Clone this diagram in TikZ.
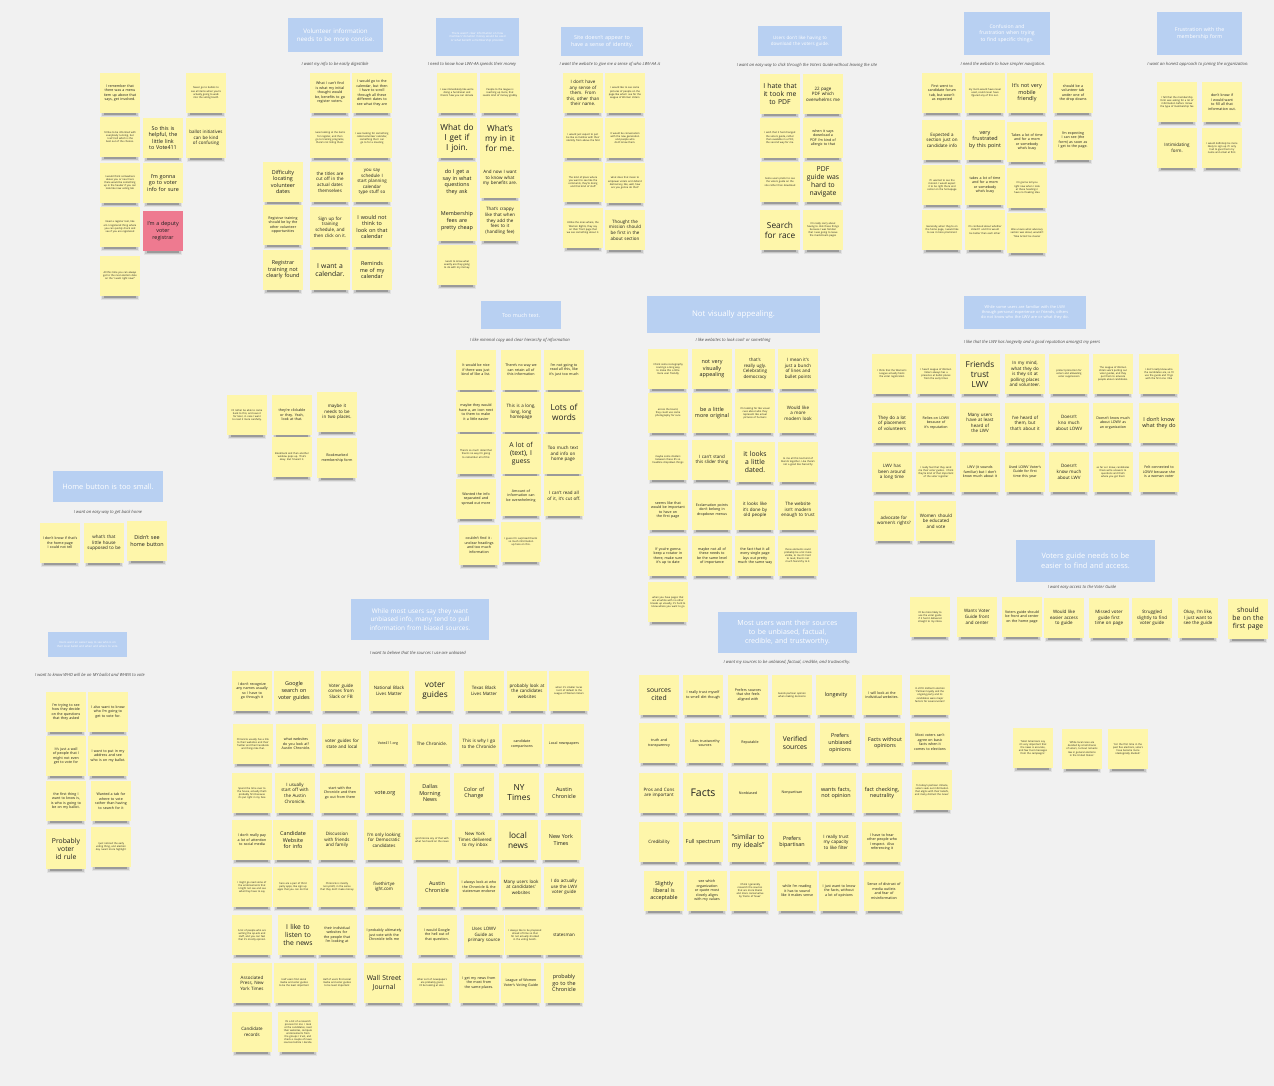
\documentclass[tikz,border=0pt]{standalone}
\usepackage{fontspec}
\setmainfont{Open Sans}
\definecolor{board}{HTML}{F1F1F1}
\definecolor{stickY}{HTML}{FEF6AA}
\definecolor{stickR}{HTML}{EE7A90}
\definecolor{hdrB}{HTML}{B8D0F2}
\definecolor{subG}{HTML}{4A4A4A}
\definecolor{inkN}{HTML}{1E1E1E}
\tikzset{
  note/.style={fill=stickY, text=inkN, minimum width=40pt, minimum height=40pt,
    text width=35pt, inner sep=2.5pt, align=center},
  notepink/.style={note, fill=stickR},
  hdr/.style={fill=hdrB, text=white, align=center, inner sep=2pt},
  sub/.style={text=subG, font=\fontsize{4.2}{5}\selectfont\itshape, inner sep=0pt},
  fT/.style={font=\fontsize{2.5}{3.1}\selectfont},
  fS/.style={font=\fontsize{3.6}{4.5}\selectfont},
  fM/.style={font=\fontsize{4.5}{5.6}\selectfont},
  fN/.style={font=\fontsize{5.4}{6.6}\selectfont},
  fL/.style={font=\fontsize{6.8}{8.2}\selectfont},
  fX/.style={font=\fontsize{8.3}{10}\selectfont},
  fXX/.style={font=\fontsize{10.5}{12}\selectfont},
}
% sticky note: [style]{name}{x}{y}{font style}{text}
\newcommand\sn[6][note]{%
  \fill[black,opacity=.06] (#3-19,#4+15) rectangle (#3+19,#4+24);
  \fill[black,opacity=.12] (#3-18,#4+17) rectangle (#3+18,#4+23);
  \fill[black,opacity=.22] (#3-16,#4+18) rectangle (#3+16,#4+22);
  \node[#1,#5] (#2) at (#3,#4) {#6};}
% cluster heading: {name}{x}{y}{width}{height}{font size}{text}
\newcommand\hd[7]{%
  \pgfmathsetmacro\hdls{#6*1.3}%
  \pgfmathsetmacro\hdtw{#4-12}%
  \node[hdr, minimum width=#4pt, minimum height=#5pt, text width=\hdtw pt,
    font=\fontsize{#6}{\hdls}\selectfont] (#1) at (#2,#3) {#7};}
\begin{document}
\hyphenpenalty=10000 \exhyphenpenalty=10000
\begin{tikzpicture}[x=1pt,y=-1pt]
\fill[board] (0,0) rectangle (1274,1086);
\useasboundingbox (0,0) rectangle (1274,1086);

% ---------------- headings and need statements ----------------
\hd{hVol}{335.5}{35}{95}{34}{6.2}{Volunteer information needs to be more concise.}
\hd{hMoney}{477.5}{37}{83}{38}{2.8}{There wasn't clear information on how members' donation money would be used or what benefit a membership provides.}
\hd{hIdent}{602}{41.5}{82}{29}{5.4}{Site doesn't appear to have a sense of identity.}
\hd{hPdf}{800}{41}{84}{30}{4.5}{Users don't like having to download the voters guide.}
\hd{hConf}{1007}{33.5}{86}{43}{5.1}{Confusion and frustration when trying to find specific things.}
\hd{hForm}{1199.5}{33.5}{85}{43}{5.3}{Frustration with the membership form}
\hd{hHome}{108}{486.5}{110}{31}{7.4}{Home button is too small.}
\hd{hText}{521}{315}{80}{28}{5.4}{Too much text.}
\hd{hLook}{733.5}{314.5}{173}{37}{7.8}{Not visually appealing.}
\hd{hLwv}{1025}{312.5}{122}{33}{3.9}{While some users are familiar with the LWV through personal experience or friends, others do not know who the LWV are or what they do.}
\hd{hGuide}{1085.5}{561}{139}{42}{7.4}{Voters guide needs to be easier to find and access.}
\hd{hBallot}{87.5}{644.5}{79}{25}{2.8}{Users want an easier way to see who is on their local ballot and when and where to vote.}
\hd{hBias}{420}{619.5}{138}{41}{6.4}{While most users say they want unbiased info, many tend to pull information from biased sources.}
\hd{hSrc}{787.5}{632.5}{139}{41}{7}{Most users want their sources to be unbiased, factual, credible, and trustworthy.}

\node[sub] (sVol) at (335,64) {I want my info to be easily digestible};
\node[sub] (sMoney) at (472,64) {I need to know how LWV-AA spends their money};
\node[sub] (sIdent) at (610,64) {I want the website to give me a sense of who LWV-AA is};
\node[sub] (sPdf) at (807,65) {I want an easy way to click through the Voters Guide without leaving the site};
\node[sub] (sConf) at (1003,64) {I need the website to have simpler navigation.};
\node[sub] (sForm) at (1198,64) {I want an honest approach to joining the organization.};
\node[sub] (sHome) at (108,512) {I want an easy way to get back home};
\node[sub] (sText) at (520,340) {I like minimal copy and clear hierarchy of information};
\node[sub] (sLook) at (733,340) {I like websites to look cool! or something};
\node[sub] (sLwv) at (1032,342) {I like that the LWV has longevity and a good reputation amongst my peers};
\node[sub] (sGuide) at (1082,587) {I want easy access to the Voter Guide};
\node[sub] (sBallot) at (90,675) {I want to know WHO will be on MY ballot and WHEN to vote};
\node[sub] (sBias) at (418,653) {I want to believe that the sources I use are unbiased};
\node[sub] (sSrc) at (787,662) {I want my sources to be unbiased, factual, credible, and trustworthy.};

% ---------------- top-left notes ----------------
\sn{a1}{120}{93}{fS}{I remember that there was a menu item up above that says, get involved.}
\sn{a2}{120}{137}{fT}{I'd like to be informed with everybody running, but I can't tell which is the best out of the choices.}
\sn{a3}{120}{183}{fT}{I would think somewhere above you or near here there would be something up in the header if you can look like now voting tab}
\sn{a4}{120}{227}{fT}{Need a register tool, like am I registered thing where you can quickly check and see if you are registered}
\sn{a5}{120}{276}{fT}{All this time you can always get to the next election date on the 'I want right now?'}
\sn{a6}{163}{138}{fN}{So this is helpful, the little link to Vote411}
\sn{a7}{163}{183}{fN}{I'm gonna go to voter info for sure}
\sn[notepink]{a8}{163}{231}{fN}{I'm a deputy voter registrar}
\sn{a9}{206}{93}{fT}{Never go to ballots to see all items when you're actually going to walk into the voting booth}
\sn{a10}{206}{138}{fM}{ballot initiatives can be kind of confusing}

% ---------------- volunteer information ----------------
\sn{b1}{283}{182}{fN}{Difficulty locating volunteer dates}
\sn{b2}{283}{225}{fS}{Registrar training should be by the other volunteer opportunities}
\sn{b3}{283}{270}{fN}{Registrar training not clearly found}
\sn{b4}{330}{93}{fS}{What I can't find is what my initial thought would be, benefits to go register voters.}
\sn{b5}{330}{138}{fT}{I was looking at the items for register, and then go to training programs, there's not listing them.}
\sn{b6}{330}{182}{fM}{the titles are cut off in the actual dates themselves}
\sn{b7}{330}{227}{fM}{Sign up for training schedule, and then click on it.}
\sn{b8}{330}{270}{fL}{I want a calendar.}
\sn{b9}{372}{93}{fS}{I would go to the calendar, but then I have to scroll through all these different dates to see what they are}
\sn{b10}{372}{138}{fT}{I was looking for something called volunteer calendar, something that I can go to for a meeting}
\sn{b11}{372}{182}{fM}{you say schedule I start planning calendar type stuff so}
\sn{b12}{372}{227}{fN}{I would not think to look on that calendar}
\sn{b13}{372}{270}{fN}{Reminds me of my calendar}

% ---------------- membership money ----------------
\sn{c1}{457}{93}{fT}{I saw immediately like we're doing a fundraiser and there's how you can donate}
\sn{c2}{457}{138}{fX}{What do I get if I join.}
\sn{c3}{457}{182}{fN}{do I get a say in what questions they ask}
\sn{c4}{457}{221}{fN}{Membership fees are pretty cheap}
\sn{c5}{457}{265}{fT}{I want to know what exactly are they going to do with my money.}
\sn{c6}{500}{93}{fT}{People to the league is reaching up more, that seems kind of money grabby}
\sn{c7}{500}{138}{fX}{What's my in it for me.}
\sn{c8}{500}{178}{fM}{And now I want to know what my benefits are.}
\sn{c9}{500}{221}{fM}{That's crappy like that when they add the fees to it (handling fee)}

% ---------------- identity ----------------
\sn{d1}{583}{93}{fM}{I don't have any sense of them. From this, other than their name.}
\sn{d2}{583}{138}{fT}{I would just expect to just be like so familiar with their identity from above the fold}
\sn{d3}{583}{182}{fT}{The kind of place where you want to see like the comments, they're doing and that kind of stuff}
\sn{d4}{583}{228}{fT}{Unlike the ones where, the Women Rights, they say on their front page that we see something about it.}
\sn{d5}{625}{93}{fT}{I would like to see some pictures of people on the page like what I see for the League of Women Voters.}
\sn{d6}{625}{138}{fT}{It would be conversation with the new generation and people who don't know them.}
\sn{d7}{625}{183}{fT}{what does that mean to empower voters and defend democracy, like, well, how are you gonna do that?}
\sn{d8}{625}{230}{fM}{Thought the mission should be first in the about section}

% ---------------- voters guide download ----------------
\sn{e1}{780}{94}{fL}{I hate that it took me to PDF}
\sn{e2}{780}{138}{fT}{I wish that it had changed the voters guide, rather than available in a PDF, the second way for me.}
\sn{e3}{780}{182}{fT}{Some users prefer to see the voters guide on the site rather than download}
\sn{e4}{780}{230}{fX}{Search for race}
\sn{e5}{823}{94}{fM}{22 page PDF which overwhelms me}
\sn{e6}{823}{138}{fS}{when it says download a PDF I'm kind of allergic to that}
\sn{e7}{823}{182}{fL}{PDF guide was hard to navigate}
\sn{e8}{823}{230}{fT}{I'm really sorry about having to click these things because I was familiar that I was going to leave the mainstream pages}

% ---------------- navigation ----------------
\sn{f1}{942}{93}{fS}{First went to candidate forum tab, but wasn't as expected}
\sn{f2}{942}{140}{fM}{Expected a section just on candidate info}
\sn{f3}{942}{185}{fT}{If I wanted to see the mission I would expect it to be right there and center on the homepage}
\sn{f4}{942}{230}{fT}{Generally, when they're on the home page, I would like to see it more prominent}
\sn{f5}{985}{93}{fT}{my mom would have never used, could never have figured any of this out.}
\sn{f6}{985}{140}{fN}{very frustrated by this point}
\sn{f7}{985}{185}{fS}{takes a lot of time and for a mom or somebody who's busy}
\sn{f8}{985}{230}{fT}{I'm confused about whether Vote411 and this would be better than each other}
\sn{f9}{1027}{93}{fN}{It's not very mobile friendly}
\sn{f10}{1027}{142}{fS}{Takes a lot of time and for a mom or somebody who's busy}
\sn{f11}{1027}{188}{fT}{I'm gonna tell you right now when I look at these headings I have no freaking idea}
\sn{f12}{1027}{233}{fT}{Was unsure what advocacy section was about, wouldn't 'Take Action' be clearer}
\sn{f13}{1073}{93}{fS}{should be a volunteer tab under one of the drop downs}
\sn{f14}{1073}{140}{fS}{I'm expecting I can see (the form) as soon as I get to the page.}

% ---------------- membership form ----------------
\sn{g1}{1177}{102}{fT}{I felt that the membership form was asking for a lot of information before I knew the type of membership fee}
\sn{g2}{1177}{148}{fM}{Intimidating form.}
\sn{g3}{1222}{102}{fS}{don't know if I would want to fill all that information out.}
\sn{g4}{1222}{148}{fT}{I would definitely be more likely to sign up if I only had to give them my name and email at first.}

% ---------------- bookmarks ----------------
\sn{k0a}{247}{415}{fT}{I'd rather be able to come back to this, and save it for later, in case I want to read it more carefully.}
\sn{k0b}{292}{415}{fS}{they're clickable or they. Yeah, look at that.}
\sn{k0c}{292}{457}{fT}{Bookmark and then another window pops up. That's okay. But I'd want it.}
\sn{k0d}{337}{412}{fM}{maybe it needs to be in two places.}
\sn{k0e}{337}{458}{fS}{Bookmarked membership form}

% ---------------- home button ----------------
\sn{i1}{60}{543}{fS}{I don't know if that's the home page I could not tell}
\sn{i2}{104}{543}{fM}{what's that little house supposed to be}
\sn{i3}{147}{541}{fN}{Didn't see home button}

% ---------------- too much text ----------------
\sn{j1}{476}{370}{fS}{It would be nice if there was just kind of like a list.}
\sn{j2}{476}{412}{fS}{maybe they would have a, an icon next to them to make it a little easier}
\sn{j3}{476}{454}{fT}{There's so much detail that there's no way I'm going to remember all of this}
\sn{j4}{476}{499}{fS}{Wanted the info separated and spread out more}
\sn{j5}{479}{545}{fS}{couldn't find it - unclear headings and too much information}
\sn{j6}{521}{370}{fS}{There's no way we can retain all of this information}
\sn{j7}{521}{412}{fM}{This is a long, long, long homepage}
\sn{j8}{521}{454}{fL}{A lot of (text), I guess}
\sn{j9}{521}{496}{fS}{Amount of information can be overwhelming}
\sn{j10}{521}{542}{fT}{I guess I'm surprised there's so much information up here on this.}
\sn{j11}{564}{370}{fS}{I'm not going to read all this, like it's just too much}
\sn{j12}{564}{412}{fX}{Lots of words}
\sn{j13}{563}{454}{fM}{Too much text and info on home page}
\sn{j14}{564}{496}{fM}{I can't read all of it, it's cut off.}

% ---------------- visual appeal ----------------
\sn{k1}{668}{369}{fT}{I think some iconography could go a long way to make this a little more user friendly}
\sn{k2}{668}{413}{fT}{across the board, they could use some photography for sure}
\sn{k3}{668}{460}{fT}{maybe some dividers between these \#'s so headline dropdown things}
\sn{k4}{668}{510}{fS}{seems like that would be important to have on the first page}
\sn{k5}{668}{556}{fS}{If you're gonna keep a rotator in there, make sure it's up to date}
\sn{k6}{668}{602}{fT}{when you have pages that are all white with no other breaks up visually, it's hard to know where you want to go}
\sn{k7}{712}{369}{fN}{not very visually appealing}
\sn{k8}{712}{413}{fN}{be a little more original}
\sn{k9}{712}{460}{fM}{I can't stand this slider thing}
\sn{k10}{712}{510}{fS}{Exclamation points don't belong in dropdown menus}
\sn{k11}{712}{556}{fS}{maybe not all of these needs to be the same level of importance}
\sn{k12}{755}{369}{fM}{that's really ugly. Celebrating democracy}
\sn{k13}{755}{413}{fT}{I'm looking for like visual cues about who they represent like actual pictures of humans}
\sn{k14}{755}{462}{fL}{it looks a little dated.}
\sn{k15}{755}{510}{fM}{it looks like it's done by old people}
\sn{k16}{755}{556}{fS}{the fact that it all every single page lays out pretty much the same way}
\sn{k17}{798}{369}{fM}{I mean it's just a bunch of lines and bullet points}
\sn{k18}{798}{413}{fM}{Would like a more modern look}
\sn{k19}{798}{462}{fT}{to me all this text kind of blends together. Like there's not a good like hierarchy}
\sn{k20}{798}{510}{fM}{The website isn't modern enough to trust}
\sn{k21}{798}{556}{fT}{those elements could probably be a lot more visible, to me it's hard to read, there's not much hierarchy to it.}

% ---------------- familiarity with the LWV ----------------
\sn{l1}{892}{374}{fT}{I think that the Women's League actually hosts the voter registration}
\sn{l2}{936}{374}{fT}{I heard League of Women Voters always has a presence at ballot places from the early times}
\sn{l3}{980}{374}{fX}{Friends trust LWV}
\sn{l4}{1025}{374}{fM}{In my mind, what they do is they sit at polling places and volunteer.}
\sn{l5}{1069}{374}{fT}{protect protection for voters and alleviating voter suppression}
\sn{l6}{1113}{374}{fT}{The League of Women Voters work putting out voter guides, and they put them to educate people about candidates.}
\sn{l7}{1159}{374}{fT}{I don't really know who the candidates are, so I'll use the guide and I'll go with the first one I like}
\sn{l8}{892}{423}{fM}{They do a lot of placement of volunteers}
\sn{l9}{936}{423}{fS}{Relies on LOWV because of it's reputation}
\sn{l10}{980}{423}{fM}{Many users have at least heard of the LWV}
\sn{l11}{1025}{423}{fM}{I've heard of them, but that's about it}
\sn{l12}{1069}{423}{fM}{Doesn't kno much about LOWV}
\sn{l13}{1113}{423}{fS}{Doesn't know much about LOWV as an organization}
\sn{l14}{1159}{423}{fN}{I don't know what they do}
\sn{l15}{892}{472}{fM}{LWV has been around a long time}
\sn{l16}{936}{472}{fT}{I really feel that they send me their voter guides. I think they're kind of that important of the voter registrar}
\sn{l17}{980}{472}{fS}{LWV (it sounds familiar) but I don't know much about it}
\sn{l18}{1025}{472}{fS}{Used LOWV Voter's Guide for first time this year}
\sn{l19}{1069}{472}{fM}{Doesn't know much about LWV}
\sn{l20}{1113}{472}{fT}{as far as I know, candidates there write answers to questions and that's where you get them}
\sn{l21}{1159}{472}{fS}{Felt connected to LOWV because she is a woman voter}
\sn{l22}{894}{521}{fM}{advocate for women's rights?}
\sn{l23}{936}{521}{fM}{Women should be educated and vote}

% ---------------- finding the voters guide ----------------
\sn{m1}{930}{617}{fT}{I'd be more likely to use the voter guide if it had it delivered straight to my inbox}
\sn{m2}{977}{617}{fM}{Wants Voter Guide front and center}
\sn{m3}{1022}{617}{fS}{Voters guide should be front and center on the home page}
\sn{m4}{1064}{618}{fM}{Would like easier access to guide}
\sn{m5}{1109}{618}{fM}{Missed voter guide first time on page}
\sn{m6}{1152}{618}{fM}{Struggled slightly to find voter guide}
\sn{m7}{1198}{618}{fM}{Okay, I'm like, I just want to see the guide}
\sn{m8}{1248}{619}{fL}{should be on the first page}

% ---------------- who is on my ballot ----------------
\sn{n1}{66}{712}{fS}{I'm trying to see how they decide on the questions that they asked}
\sn{n2}{66}{756}{fS}{It's just a wall of people that I might not even get to vote for}
\sn{n3}{66}{801}{fS}{the first thing I want to know is, is who is going to be on my ballot.}
\sn{n4}{66}{849}{fL}{Probably voter id rule}
\sn{n5}{108}{712}{fS}{I also want to know who I'm going to get to vote for.}
\sn{n6}{108}{756}{fS}{I want to put in my address and see who is on my ballot.}
\sn{n7}{111}{801}{fS}{Wanted a tab for where to vote rather than having to search for it}
\sn{n8}{111}{847}{fT}{I just noticed the early voting thing, and election day I want more highlight}

% ---------------- sources people use ----------------
\sn{o1}{252}{691}{fS}{I don't recognize any names usually so I have to go through it}
\sn{o2}{294}{691}{fN}{Google search on voter guides}
\sn{o3}{341}{691}{fM}{Voter guide comes from Slack or FB}
\sn{o4}{389}{691}{fM}{National Black Lives Matter}
\sn{o5}{435}{691}{fX}{voter guides}
\sn{o6}{484}{691}{fM}{Texas Black Lives Matter}
\sn{o7}{527}{691}{fM}{probably look at the candidates websites}
\sn{o8}{569}{691}{fT}{when it's smaller races I sort of default to the League of Women Voters}
\sn{o9}{253}{744}{fT}{Chronicle usually has a link to their websites and their Twitter and their Facebook and things like that.}
\sn{o10}{296}{744}{fS}{what websites do you look at? Austin Chronicle.}
\sn{o11}{342}{744}{fM}{voter guides for state and local}
\sn{o12}{388}{744}{fS}{Vote411.org}
\sn{o13}{432}{744}{fM}{The Chronicle.}
\sn{o14}{479}{744}{fM}{This is why I go to the Chronicle}
\sn{o15}{522}{744}{fS}{candidate comparisons}
\sn{o16}{564}{744}{fS}{Local newspapers}
\sn{o17}{252}{793}{fT}{Spend the time over to the house, actually that's probably first because it's put right in my face}
\sn{o18}{295}{793}{fM}{I usually start off with the Austin Chronicle.}
\sn{o19}{340}{793}{fS}{start with the Chronicle and then go out from there}
\sn{o20}{385}{793}{fN}{vote.org}
\sn{o21}{430}{793}{fN}{Dallas Morning News}
\sn{o22}{474}{793}{fN}{Color of Change}
\sn{o23}{519}{793}{fX}{NY Times}
\sn{o24}{564}{793}{fN}{Austin Chronicle}
\sn{o25}{252}{840}{fS}{I don't really pay a lot of attention to social media}
\sn{o26}{293}{840}{fN}{Candidate Website for info}
\sn{o27}{337}{840}{fM}{Discussion with friends and family}
\sn{o28}{384}{840}{fM}{I'm only looking for Democratic candidates}
\sn{o29}{432}{840}{fT}{synchronize any of that with what I've heard on the news}
\sn{o30}{475}{840}{fM}{New York Times delivered to my inbox}
\sn{o31}{518}{840}{fX}{local news}
\sn{o32}{561}{840}{fN}{New York Times}
\sn{o33}{252}{887}{fT}{I might go read some of the endorsements that I might not see and see what they have to say}
\sn{o34}{293}{887}{fT}{here are a pair of third party apps, like sign up apps that you can do that}
\sn{o35}{337}{887}{fT}{Chronicle is mostly non-profit, in the sense that they don't make money}
\sn{o36}{384}{887}{fM}{fivethirtye ight.com}
\sn{o37}{437}{887}{fN}{Austin Chronicle}
\sn{o38}{479}{887}{fS}{I always look at who the Chronicle \& the statesman endorse}
\sn{o39}{521}{887}{fM}{Many users look at candidates' websites}
\sn{o40}{564}{887}{fM}{I do actually use the LWV voter guide}
\sn{o41}{252}{935}{fT}{A lot of people who are writing the op-eds and stuff, and you can feel that it's mostly opinion}
\sn{o42}{298}{935}{fL}{I like to listen to the news}
\sn{o43}{337}{935}{fS}{their individual websites for the people that I'm looking at}
\sn{o44}{384}{935}{fS}{I probably ultimately just vote with the Chronicle tells me}
\sn{o45}{437}{935}{fS}{I would Google the hell out of that question.}
\sn{o46}{484}{935}{fM}{Uses LOWV Guide as primary source}
\sn{o47}{525}{935}{fT}{I always like to be prepared ahead of time so that I'm not actually shocked in the voting booth.}
\sn{o48}{564}{935}{fM}{statesman}
\sn{o49}{252}{983}{fM}{Associated Press, New York Times}
\sn{o50}{294}{983}{fT}{Half users find social media and voter guides to be the least important}
\sn{o51}{337}{983}{fT}{Half of users find social media and voter guides to be least important}
\sn{o52}{384}{983}{fL}{Wall Street Journal}
\sn{o53}{432}{983}{fT}{other sort of newspapers are probably good, I'd be looking at also.}
\sn{o54}{479}{983}{fS}{I get my news from the most from the same places.}
\sn{o55}{521}{983}{fS}{League of Women Voter's Voting Guide}
\sn{o56}{564}{983}{fN}{probably go to the Chronicle}
\sn{o57}{252}{1032}{fM}{Candidate records}
\sn{o58}{298}{1032}{fT}{It's a bit of a research process for me: I look at the candidates, read their websites, compare endorsements from the groups I trust, and check a couple of news sources before I decide.}

% ---------------- trustworthy sources ----------------
\sn{p1}{659}{695}{fL}{sources cited}
\sn{p2}{703}{695}{fS}{I really trust myself to smell dirt though}
\sn{p3}{748}{695}{fS}{Prefers sources that she feels aligned with}
\sn{p4}{792}{695}{fT}{Avoids partisan opinion when making decisions}
\sn{p5}{836}{695}{fN}{longevity}
\sn{p6}{882}{695}{fS}{I will look at the individual websites.}
\sn{p7}{930}{695}{fT}{In 2018 midterm election 'Partisan loyalty and the ongoing party and its candidates were major factors for several voters'}
\sn{p8}{659}{743}{fS}{truth and transparency}
\sn{p9}{705}{743}{fS}{Likes trustworthy sources}
\sn{p10}{750}{743}{fS}{Reputable}
\sn{p11}{795}{743}{fL}{Verified sources}
\sn{p12}{840}{743}{fN}{Prefers unbiased opinions}
\sn{p13}{885}{743}{fN}{Facts without opinions}
\sn{p14}{930}{742}{fS}{Most voters can't agree on basic facts when it comes to elections}
\sn{p15}{659}{793}{fM}{Pros and Cons are important}
\sn{p16}{703}{793}{fXX}{Facts}
\sn{p17}{748}{793}{fS}{Nonbiased}
\sn{p18}{792}{793}{fS}{Nonpartisan}
\sn{p19}{836}{793}{fN}{wants facts, not opinion}
\sn{p20}{882}{793}{fN}{fact checking, neutrality}
\sn{p21}{932}{790}{fT}{'In today's partisan climate, voters seek out information that aligns with their beliefs, and many distrust the news.'}
\sn{p22}{659}{842}{fM}{Credibility}
\sn{p23}{703}{842}{fN}{Full spectrum}
\sn{p24}{748}{842}{fL}{"similar to my ideals"}
\sn{p25}{792}{842}{fN}{Prefers bipartisan}
\sn{p26}{836}{842}{fM}{I really trust my capacity to like filter}
\sn{p27}{882}{842}{fS}{I have to hear other people who I respect. Also referencing it}
\sn{p28}{664}{891}{fN}{Slightly liberal is acceptable}
\sn{p29}{707}{891}{fS}{see which organization or quote most closely aligns with my values}
\sn{p30}{750}{891}{fT}{I think I generally research the sources that are more liberal and more conservative by 'Dems of Texas'}
\sn{p31}{797}{891}{fS}{while I'm reading it has to sound like it makes sense}
\sn{p32}{839}{891}{fS}{I just want to know the facts, without a lot of opinions}
\sn{p33}{884}{891}{fS}{Sense of distrust of media outlets and fear of misinformation}

% ---------------- research quotes ----------------
\sn{q1}{1033}{748}{fT}{'Most Americans say it's very important that the news is accurate, and few trust messages from the campaigns.'}
\sn{q2}{1082}{749}{fT}{'While local races are decided by small shares of voters, turnout remains low in general elections in the United States.'}
\sn{q3}{1128}{749}{fT}{'For the first time in the past five elections, voters have become more ideologically divided.'}
\end{tikzpicture}
\end{document}
